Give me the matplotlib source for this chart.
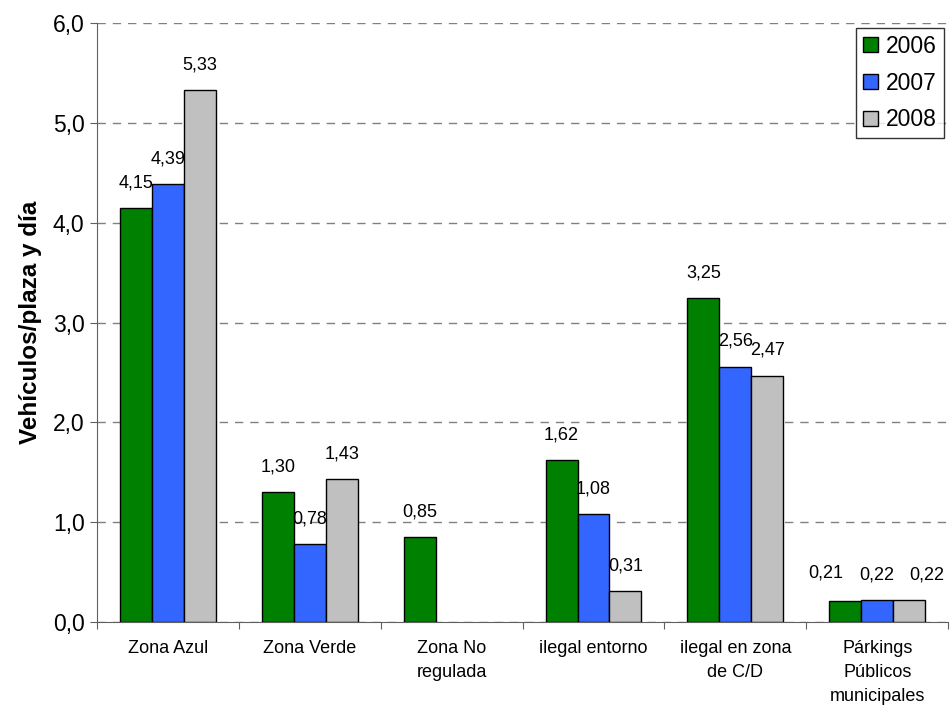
import matplotlib
matplotlib.use("Agg")
import matplotlib.pyplot as plt
import numpy as np

categories = ["Zona Azul", "Zona Verde", "Zona No\nregulada", "ilegal entorno",
              "ilegal en zona\nde C/D", "Párkings\nPúblicos\nmunicipales"]
years = ["2006", "2007", "2008"]
v2006 = [4.15, 1.30, 0.85, 1.62, 3.25, 0.21]
v2007 = [4.39, 0.78, np.nan, 1.08, 2.56, 0.22]
v2008 = [5.33, 1.43, np.nan, 0.31, 2.47, 0.22]
colors = ["#008000", "#3366FF", "#C0C0C0"]

# labels nudged sideways in the original to avoid overlapping (series, category) -> points
label_shift = {(0, 5): (-14, 2), (2, 5): (13, 0)}

plt.rcParams["font.family"] = ["Liberation Sans", "DejaVu Sans"]

fig = plt.figure(figsize=(9.51, 7.06), dpi=100)
ax = fig.add_axes([0.102, 0.119, 0.895, 0.848])

x = np.arange(len(categories))
w = 0.225
for i, (vals, c, lab) in enumerate(zip([v2006, v2007, v2008], colors, years)):
    pos = x + (i - 1) * w
    ax.bar(pos, vals, width=w, color=c, edgecolor="black", linewidth=1.0, label=lab, zorder=3)
    for j, (p, v) in enumerate(zip(pos, vals)):
        if np.isnan(v):
            continue
        dx, dy = label_shift.get((i, j), (0, 0))
        ax.annotate(f"{v:.2f}".replace(".", ","), (p, v), xytext=(dx, 12 + dy),
                    textcoords="offset points", ha="center", va="bottom", fontsize=13, zorder=4)

ax.set_xlim(-0.5, len(categories) - 0.5)
ax.set_ylim(0, 6)
ax.set_yticks(np.arange(0, 6.1, 1.0))
ax.set_yticklabels([f"{t:.1f}".replace(".", ",") for t in np.arange(0, 6.1, 1.0)], fontsize=16.5)
ax.yaxis.grid(True, linestyle=(0, (6, 5)), color="#808080", linewidth=1.0, zorder=0)

ax.set_xticks(np.arange(-0.5, len(categories), 1.0))
ax.set_xticklabels([])
ax.set_xticks(x, minor=True)
ax.set_xticklabels(categories, minor=True, fontsize=13, linespacing=1.55, va="top")
ax.tick_params(axis="x", which="minor", length=0, pad=13)
ax.tick_params(axis="x", which="major", length=5, color="#606060", direction="out")
ax.tick_params(axis="y", length=5, color="#606060", direction="out", pad=4)

for s in ["top", "right"]:
    ax.spines[s].set_visible(False)
for s in ["left", "bottom"]:
    ax.spines[s].set_color("#606060")

ax.set_ylabel("Vehículos/plaza y día", fontsize=17.5, fontweight="bold", labelpad=8)

leg = ax.legend(loc="upper right", fontsize=16.5, frameon=True, fancybox=False,
                edgecolor="black", handlelength=0.65, handleheight=0.65,
                handletextpad=0.35, labelspacing=0.6, borderpad=0.3,
                borderaxespad=0.2, bbox_to_anchor=(1.0, 1.0))
leg.get_frame().set_linewidth(1.0)

fig.savefig("out.png")
plt.close(fig)
